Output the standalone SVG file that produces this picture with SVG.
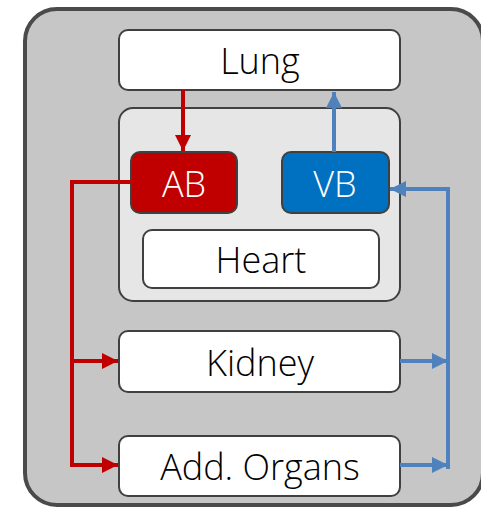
<svg xmlns="http://www.w3.org/2000/svg" width="481" height="507" viewBox="0 0 481 507">
  <style>
    .box { fill: #ffffff; stroke: #404040; stroke-width: 2; }
    .label { font-family: "Open Sans", "Liberation Sans", sans-serif; font-size: 36px; font-weight: 300; text-anchor: middle; fill: #000000; }
    .white { fill: #ffffff; }
    .red { fill: none; stroke: #c00000; stroke-width: 4; }
    .blue { fill: none; stroke: #4f81bd; stroke-width: 4; }
  </style>
  <defs>
    <marker id="arrRed" viewBox="0 0 10 10" refX="10" refY="5" markerWidth="4" markerHeight="4" orient="auto" markerUnits="strokeWidth">
      <path d="M0,0 L10,5 L0,10 Z" fill="#c00000"/>
    </marker>
    <marker id="arrBlue" viewBox="0 0 10 10" refX="10" refY="5" markerWidth="4" markerHeight="4" orient="auto" markerUnits="strokeWidth">
      <path d="M0,0 L10,5 L0,10 Z" fill="#4f81bd"/>
    </marker>
  </defs>

  <!-- body frame -->
  <rect x="25" y="9" width="458" height="496" rx="32" fill="#c6c6c6" stroke="#4a4a4a" stroke-width="4"/>

  <g id="lung">
    <rect class="box" x="119" y="30" width="281" height="60" rx="9"/>
    <text class="label" x="260" y="74">Lung</text>
  </g>

  <g id="heart-group">
    <rect x="119" y="108" width="281" height="193" rx="14" fill="#e6e6e6" stroke="#404040" stroke-width="2"/>
  </g>

  <g id="ab">
    <rect x="131" y="152" width="106" height="61" rx="9" fill="#c00000" stroke="#404040" stroke-width="2"/>
    <text class="label white" x="184" y="197">AB</text>
  </g>

  <g id="vb">
    <rect x="282" y="152" width="107" height="61" rx="9" fill="#0070c0" stroke="#404040" stroke-width="2"/>
    <text class="label white" x="335" y="197">VB</text>
  </g>

  <g id="heart">
    <rect class="box" x="143" y="230" width="236" height="58" rx="9"/>
    <text class="label" x="261" y="273">Heart</text>
  </g>

  <g id="kidney">
    <rect class="box" x="119" y="331" width="281" height="61" rx="9"/>
    <text class="label" x="260" y="376">Kidney</text>
  </g>

  <g id="add-organs">
    <rect class="box" x="119" y="436" width="281" height="60" rx="9"/>
    <text class="label" x="260" y="480">Add. Organs</text>
  </g>

  <g id="connectors">
    <!-- arterial flow -->
    <path class="red" d="M183,90 V151" marker-end="url(#arrRed)"/>
    <path class="red" d="M131,182 H72 V465 H118" marker-end="url(#arrRed)"/>
    <path class="red" d="M72,361 H118" marker-end="url(#arrRed)"/>
    <!-- venous flow -->
    <path class="blue" d="M334,152 V92" marker-end="url(#arrBlue)"/>
    <path class="blue" d="M400,361 H448" marker-end="url(#arrBlue)"/>
    <path class="blue" d="M400,465 H448" marker-end="url(#arrBlue)"/>
    <path class="blue" d="M448,469 V189 H390" marker-end="url(#arrBlue)"/>
  </g>
</svg>
